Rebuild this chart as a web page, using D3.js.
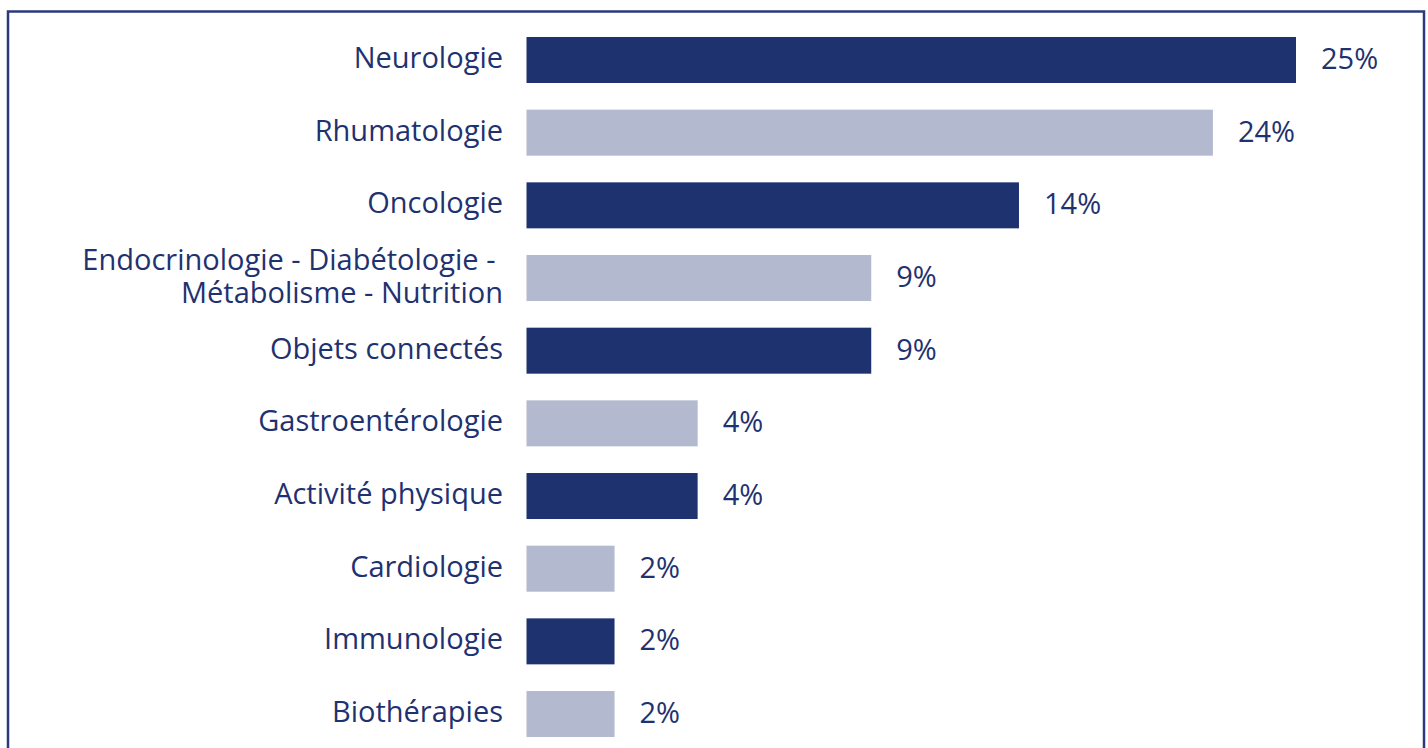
<!DOCTYPE html>
<html>
<head>
<meta charset="utf-8">
<script src="https://cdn.jsdelivr.net/npm/d3@7/dist/d3.min.js"></script>
<style>
  html, body { margin: 0; padding: 0; background: #ffffff; }
  svg { display: block; }
  text { font-family: "Open Sans", "Noto Sans", sans-serif; fill: #1f3270; }
</style>
</head>
<body>
<svg id="chart" width="1428" height="748"></svg>
<script>
// ---- data ----
const categories = [
  "Neurologie",
  "Rhumatologie",
  "Oncologie",
  "Endocrinologie - Diabétologie - |Métabolisme - Nutrition",
  "Objets connectés",
  "Gastroentérologie",
  "Activité physique",
  "Cardiologie",
  "Immunologie",
  "Biothérapies"
];
// bar lengths as drawn in the picture (in % units of the axis)
const barValues = [25, 22.3, 16.0, 11.2, 11.2, 5.56, 5.56, 2.86, 2.86, 2.86];
// percentages printed next to the bars
const valueLabels = ["25%", "24%", "14%", "9%", "9%", "4%", "4%", "2%", "2%", "2%"];
const barColors = ["#1f3270", "#b3b9cf"];

// ---- layout ----
const svg = d3.select("#chart");
const W = 1428, H = 748;

svg.append("rect")
  .attr("x", 8).attr("y", 11.5)
  .attr("width", 1416).attr("height", 800)
  .attr("fill", "none")
  .attr("stroke", "#2a3a78")
  .attr("stroke-width", 2.5);

const x = d3.scaleLinear().domain([0, 25]).range([526.5, 1296]);
const step = 72.67, pad = 0.367;
const y0 = 37 - step * pad / 2;
const y = d3.scaleBand()
  .domain(d3.range(categories.length))
  .range([y0, y0 + step * categories.length])
  .paddingInner(pad)
  .paddingOuter(pad / 2);

const g = svg.append("g");

g.selectAll("rect.bar")
  .data(barValues)
  .join("rect")
  .attr("class", "bar")
  .attr("x", x(0))
  .attr("y", (d, i) => y(i))
  .attr("width", d => x(d) - x(0))
  .attr("height", y.bandwidth())
  .attr("fill", (d, i) => barColors[i % 2]);

// category labels
const fs = 29;
g.selectAll("text.cat")
  .data(categories)
  .join("text")
  .attr("class", "cat")
  .attr("text-anchor", "end")
  .style("font-size", fs + "px")
  .style("white-space", "pre")
  .each(function(d, i) {
    const lines = d.split("|");
    const cy = y(i) + y.bandwidth() / 2;
    const lh = 33;
    const base = cy + 8 - (lines.length - 1) * lh / 2;
    d3.select(this).selectAll("tspan")
      .data(lines)
      .join("tspan")
      .attr("x", 503)
      .attr("y", (l, k) => base + k * lh)
      .text(l => l);
  });

// value labels
g.selectAll("text.val")
  .data(valueLabels)
  .join("text")
  .attr("class", "val")
  .style("font-size", fs + "px")
  .attr("x", (d, i) => x(barValues[i]) + 25)
  .attr("y", (d, i) => y(i) + y.bandwidth() / 2 + 9)
  .text(d => d);
</script>
</body>
</html>
